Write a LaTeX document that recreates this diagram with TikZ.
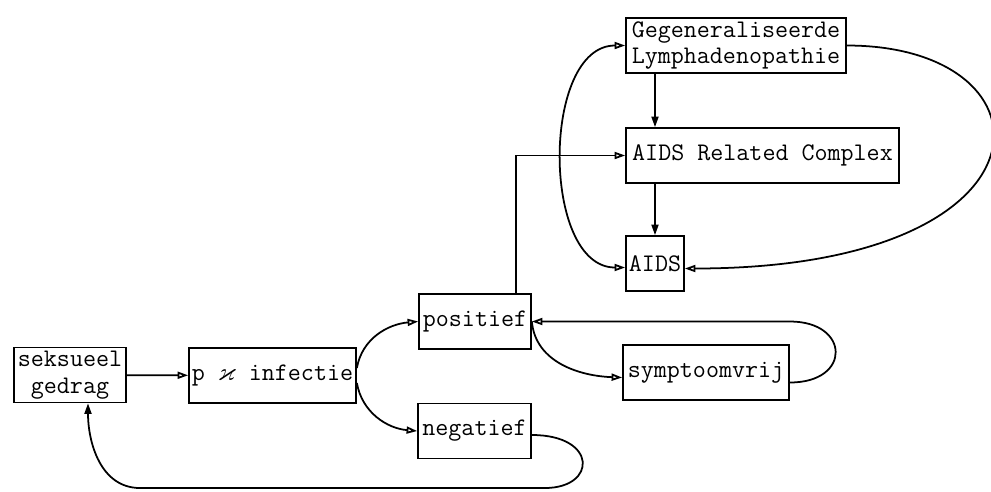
\documentclass[tikz,border=0pt]{standalone}
\usepackage{amssymb}
\usepackage{tikz}
\usetikzlibrary{arrows.meta, positioning}

\begin{document}
\begin{tikzpicture}[
    x=0.02cm, y=-0.02cm,
    % Basis stijl voor de vakken
    box/.style={
        rectangle,
        draw=black,
        line width=1pt,
        minimum height=1.1cm,
        inner sep=1pt,
        align=center, % Laat \\ toe
        font=\fontsize{14.4}{15.3}\selectfont\ttfamily
    },
    % Stijlen voor de pijlen
    line/.style={line width=1pt},
    arr/.style={line, -{Triangle[length=6pt,width=4pt]}},
    oarr/.style={line, -{Triangle[open,length=6pt,width=4pt]}}
]

    \useasboundingbox (0,0) rectangle (991,491);

    % --- VAKKEN ---

    % 1. Links
    \node[box, minimum width=2.24cm] (seks) at (70,375) {seksueel\\gedrag};
    \node[box, minimum width=3.34cm] (inf) at (272.5,375.5) {p $\varkappa$ infectie};

    % 2. Midden
    \node[box, minimum width=2.24cm] (pos) at (475,321.5) {positief};
    \node[box, minimum width=2.26cm] (neg) at (474.5,431) {negatief};
    \node[box, minimum width=3.32cm] (sym) at (706,372.5) {symptoomvrij};

    % 3. Boven rechts
    \node[box, minimum width=4.4cm] (gen) at (736,45.5) {Gegeneraliseerde\\Lymphadenopathie};
    \node[box, minimum width=5.46cm] (arc) at (762.5,155.5) {AIDS Related Complex};
    \node[box, minimum width=1.16cm] (aids) at (655,263.5) {AIDS};

    % --- PIJLEN ---
    \draw[oarr] (seks) -- (inf);
    \draw[oarr] ([yshift=0.15cm]inf.east) to[out=80, in=185] (pos.west);
    \draw[oarr] ([yshift=-0.15cm]inf.east) to[out=-80, in=175] (neg.west);
    \draw[oarr] (pos.east) to[out=-85, in=178] ([yshift=-0.1cm]sym.west);

    % terug van symptoomvrij
    \coordinate (symtop) at (790,321.5);
    \draw[oarr] ([yshift=-0.2cm]sym.east) .. controls +(62,0) and (850,321.5) .. (symtop) -- (pos.east);

    % naar AIDS Related Complex
    \draw[oarr] ([xshift=0.82cm]pos.north) |- (arc.west);
    \draw[arr] (aids.north |- gen.south) -- (aids.north |- arc.north);
    \draw[arr] (aids.north |- arc.south) -- (aids.north);

    % bogen rond de rechterkolom
    \draw[line, {Triangle[open,length=6pt,width=4pt]}-{Triangle[open,length=6pt,width=4pt]}]
        (gen.west) .. controls +(-84,0) and +(-84,0) .. ([yshift=-0.08cm]aids.west);
    \draw[oarr] (gen.east) .. controls +(215,0) and +(380,0) .. ([yshift=-0.1cm]aids.east);

    % terug naar seksueel gedrag
    \coordinate (negbot) at (545,488);
    \coordinate (seksbot) at (140,488);
    \draw[arr] ([yshift=-0.08cm]neg.east) .. controls +(66,0) and +(52,0) .. (negbot)
        -- (seksbot) .. controls +(-40,0) and +(0,38) .. ([xshift=0.36cm]seks.south);

\end{tikzpicture}
\end{document}
